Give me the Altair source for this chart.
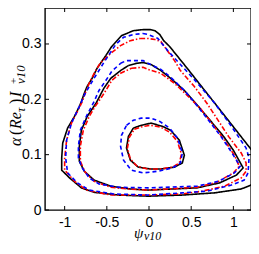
import altair as alt
import pandas as pd

# ---- data ----
outer_black_x = [-0.070, 0.012, 0.070, 0.128, 0.174, 0.244, 0.453, 0.686, 0.919, 1.151, 1.244, 1.302, 1.291, 1.209, 1.093, 0.779, 0.395, -0.012, -0.360, -0.651, -0.802, -0.942, -1.035, -1.035, -1.023, -0.965, -0.884, -0.826, -0.802, -0.767, -0.733, -0.674, -0.616, -0.512, -0.442, -0.326, -0.186]
outer_black_y = [0.326, 0.326, 0.324, 0.317, 0.306, 0.2955, 0.256, 0.211, 0.166, 0.121, 0.103, 0.081, 0.058, 0.045, 0.038, 0.031, 0.027, 0.025, 0.027, 0.032, 0.040, 0.058, 0.072, 0.094, 0.121, 0.148, 0.169, 0.187, 0.196, 0.211, 0.2235, 0.238, 0.256, 0.279, 0.2955, 0.315, 0.324]

outer_red_x = [-0.105, -0.012, 0.070, 0.140, 0.198, 0.302, 0.372, 0.535, 0.686, 0.802, 0.942, 1.093, 1.151, 1.151, 1.093, 0.895, 0.628, 0.395, -0.012, -0.453, -0.744, -0.884, -1.0, -1.0, -0.977, -0.919, -0.849, -0.791, -0.756, -0.709, -0.651, -0.581, -0.453, -0.337, -0.221]
outer_red_y = [0.310, 0.310, 0.308, 0.3045, 0.292, 0.270, 0.252, 0.2235, 0.193, 0.166, 0.133, 0.103, 0.085, 0.070, 0.058, 0.043, 0.034, 0.029, 0.027, 0.027, 0.036, 0.052, 0.072, 0.094, 0.126, 0.157, 0.178, 0.196, 0.211, 0.229, 0.247, 0.265, 0.283, 0.297, 0.306]

outer_blue_x = [-0.070, -0.012, 0.105, 0.221, 0.372, 0.535, 0.779, 0.977, 1.151, 1.186, 1.174, 1.128, 0.977, 0.686, 0.395, -0.012, -0.419, -0.709, -0.849, -0.965, -0.988, -0.977, -0.919, -0.826, -0.756, -0.651, -0.535, -0.395, -0.302, -0.186]
outer_blue_y = [0.319, 0.317, 0.310, 0.288, 0.263, 0.236, 0.193, 0.151, 0.112, 0.094, 0.067, 0.054, 0.045, 0.034, 0.031, 0.027, 0.029, 0.036, 0.049, 0.067, 0.094, 0.126, 0.157, 0.187, 0.211, 0.238, 0.2665, 0.299, 0.312, 0.317]

middle_black_x = [-0.244, -0.151, -0.070, 0.023, 0.140, 0.256, 0.419, 0.535, 0.686, 0.884, 1.0, 1.116, 1.035, 0.837, 0.570, -0.012, -0.221, -0.453, -0.651, -0.767, -0.826, -0.826, -0.802, -0.733, -0.628, -0.535, -0.453, -0.337]
middle_black_y = [0.261, 0.265, 0.2665, 0.263, 0.252, 0.238, 0.216, 0.196, 0.169, 0.133, 0.108, 0.076, 0.063, 0.049, 0.040, 0.036, 0.038, 0.043, 0.054, 0.070, 0.088, 0.115, 0.144, 0.169, 0.193, 0.220, 0.238, 0.252]

middle_red_x = [-0.209, -0.070, -0.012, 0.140, 0.302, 0.453, 0.605, 0.744, 0.895, 1.012, 1.070, 1.0, 0.802, 0.570, -0.012, -0.244, -0.453, -0.651, -0.756, -0.814, -0.814, -0.779, -0.709, -0.640, -0.570, -0.512, -0.442, -0.337]
middle_red_y = [0.256, 0.258, 0.254, 0.247, 0.229, 0.207, 0.184, 0.157, 0.126, 0.099, 0.079, 0.067, 0.050, 0.041, 0.036, 0.038, 0.041, 0.052, 0.068, 0.088, 0.115, 0.144, 0.169, 0.187, 0.202, 0.216, 0.234, 0.247]

middle_blue_x = [-0.337, -0.267, -0.151, -0.070, -0.012, 0.140, 0.256, 0.419, 0.535, 0.686, 0.860, 0.977, 1.081, 1.012, 0.826, 0.570, -0.012, -0.360, -0.593, -0.709, -0.791, -0.837, -0.837, -0.814, -0.744, -0.651, -0.593, -0.512, -0.442]
middle_blue_y = [0.265, 0.270, 0.270, 0.270, 0.265, 0.254, 0.240, 0.216, 0.195, 0.166, 0.1315, 0.1045, 0.079, 0.067, 0.052, 0.043, 0.040, 0.041, 0.047, 0.058, 0.076, 0.094, 0.115, 0.144, 0.169, 0.196, 0.216, 0.234, 0.2505]

inner_black_x = [-0.186, -0.093, 0.023, 0.163, 0.256, 0.360, 0.419, 0.395, 0.302, 0.140, 0.023, -0.128, -0.221, -0.267, -0.244]
inner_black_y = [0.148, 0.153, 0.157, 0.151, 0.144, 0.126, 0.099, 0.085, 0.0775, 0.074, 0.074, 0.0775, 0.090, 0.112, 0.133]

inner_red_x = [-0.174, -0.070, 0.023, 0.140, 0.244, 0.337, 0.384, 0.360, 0.279, 0.128, -0.012, -0.140, -0.221, -0.256, -0.233]
inner_red_y = [0.146, 0.151, 0.153, 0.1495, 0.1405, 0.124, 0.101, 0.085, 0.0775, 0.074, 0.074, 0.079, 0.092, 0.112, 0.1315]

inner_blue_x = [-0.267, -0.186, -0.093, 0.023, 0.128, 0.244, 0.337, 0.395, 0.372, 0.279, 0.105, -0.070, -0.209, -0.302, -0.337, -0.326]
inner_blue_y = [0.153, 0.162, 0.166, 0.166, 0.160, 0.148, 0.130, 0.103, 0.085, 0.076, 0.070, 0.067, 0.072, 0.090, 0.115, 0.135]

x_ticks = [-1, -0.5, 0, 0.5, 1]
y_ticks = [0, 0.1, 0.2, 0.3]
x_title_parts = ["ψ", "v10"]
y_title_parts = ["α", "(", "Re", "τ", ")", "I", "+", "v10"]

# ---- build table ----
curves = [
    ("outer", "black", outer_black_x, outer_black_y),
    ("outer", "red", outer_red_x, outer_red_y),
    ("outer", "blue", outer_blue_x, outer_blue_y),
    ("middle", "black", middle_black_x, middle_black_y),
    ("middle", "red", middle_red_x, middle_red_y),
    ("middle", "blue", middle_blue_x, middle_blue_y),
    ("inner", "black", inner_black_x, inner_black_y),
    ("inner", "red", inner_red_x, inner_red_y),
    ("inner", "blue", inner_blue_x, inner_blue_y),
]
rows = []
for name, style, xs, ys in curves:
    pts = list(zip(xs, ys)) + [(xs[0], ys[0])]
    for i, (xv, yv) in enumerate(pts):
        rows.append({"curve": name + "_" + style, "style": style, "x": xv, "y": yv, "order": i})
df = pd.DataFrame(rows)

W, H = 206, 202
xscale = alt.Scale(domain=[-1.233, 1.209], nice=False, zero=False)
yscale = alt.Scale(domain=[0, 0.365], nice=False, zero=False)
minus_fix = "replace(datum.label, '\u2212', '-')"
xaxis = alt.Axis(values=x_ticks, title=None, grid=False, domain=False, ticks=False, format="~g",
                 labelFont="Liberation Sans", labelFontSize=14, labelColor="black",
                 labelPadding=5, labelExpr=minus_fix)
yaxis = alt.Axis(values=y_ticks, title=None, grid=False, domain=False, ticks=False, format="~g",
                 labelFont="Liberation Sans", labelFontSize=14, labelColor="black",
                 labelPadding=4)

def X():
    return alt.X("x:Q", scale=xscale, axis=xaxis)

def Y():
    return alt.Y("y:Q", scale=yscale, axis=yaxis)

styles = {"black": ("#000000", [1, 0]), "red": ("#ff0000", [5, 2, 1.5, 2]), "blue": ("#0000ff", [4, 3])}
layers = []
for st in ["black", "red", "blue"]:
    col, dash = styles[st]
    layers.append(
        alt.Chart(df).transform_filter(alt.datum.style == st)
        .mark_line(color=col, strokeDash=dash, strokeWidth=1.6, clip=True)
        .encode(x=X(), y=Y(), detail="curve:N", order="order:Q")
    )

xt = pd.DataFrame({"x": x_ticks})
yt = pd.DataFrame({"y": y_ticks})
tick_style = dict(color="black", strokeWidth=1)
layers.append(alt.Chart(xt).mark_rule(**tick_style).encode(x=X(), y=alt.value(H), y2=alt.value(H - 4)))
layers.append(alt.Chart(xt).mark_rule(**tick_style).encode(x=X(), y=alt.value(0), y2=alt.value(4)))
layers.append(alt.Chart(yt).mark_rule(**tick_style).encode(y=Y(), x=alt.value(0), x2=alt.value(4)))
layers.append(alt.Chart(yt).mark_rule(**tick_style).encode(y=Y(), x=alt.value(W), x2=alt.value(W - 4)))

def txt(s, px, py, size, italic=True, angle=0):
    kw = dict(font="Liberation Serif", fontSize=size, align="left", baseline="alphabetic", color="black")
    if italic:
        kw["fontStyle"] = "italic"
    if angle:
        kw["angle"] = angle
    return alt.Chart(pd.DataFrame({"t": [s]})).mark_text(**kw).encode(
        text="t:N", x=alt.value(px), y=alt.value(py))

# x title
layers.append(txt(x_title_parts[0], 89, 230, 15))
layers.append(txt(x_title_parts[1], 99, 232, 12))
# y title (rotated, reads bottom to top)
layers.append(txt(y_title_parts[0], -24, 138, 16, angle=270))
layers.append(txt(y_title_parts[1], -24, 127, 16, italic=False, angle=270))
layers.append(txt(y_title_parts[2], -24, 121, 16, angle=270))
layers.append(txt(y_title_parts[3], -20, 104, 12, angle=270))
layers.append(txt(y_title_parts[4], -24, 96, 16, italic=False, angle=270))
layers.append(txt(y_title_parts[5], -24, 89, 16, angle=270))
layers.append(txt(y_title_parts[6], -28, 76, 11, italic=False, angle=270))
layers.append(txt(y_title_parts[7], -20, 76, 13, angle=270))

chart = alt.layer(*layers).properties(
    width=W, height=H,
    autosize=alt.AutoSizeParams(type="none"),
    padding={"left": 37, "top": 0, "right": 0, "bottom": 35},
).configure_view(stroke="black", strokeWidth=1.4)

chart.save("out.html", embed_options={"renderer": "svg", "actions": False})
